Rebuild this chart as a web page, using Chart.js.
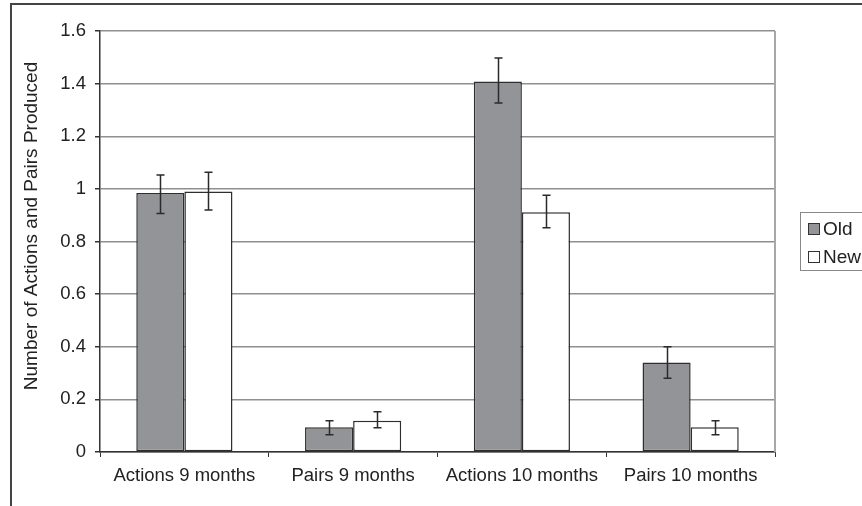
<!DOCTYPE html>
<html>
<head>
<meta charset="utf-8">
<script src="https://cdn.jsdelivr.net/npm/chart.js@4/dist/chart.umd.min.js"></script>
<style>
html,body{margin:0;padding:0;background:#fff;}
#wrap{position:relative;width:862px;height:506px;}
</style>
</head>
<body>
<div id="wrap"><canvas id="c" width="862" height="506"></canvas></div>
<script>
const categories = ["Actions 9 months", "Pairs 9 months", "Actions 10 months", "Pairs 10 months"];
const seriesNames = ["Old", "New"];
const oldValues = [0.984, 0.094, 1.408, 0.340];
const oldLow    = [0.906, 0.066, 1.326, 0.280];
const oldHigh   = [1.053, 0.119, 1.497, 0.400];
const newValues = [0.990, 0.119, 0.911, 0.094];
const newLow    = [0.920, 0.092, 0.852, 0.066];
const newHigh   = [1.063, 0.153, 0.976, 0.119];
const yTicks = [0, 0.2, 0.4, 0.6, 0.8, 1, 1.2, 1.4, 1.6];
const yTitle = "Number of Actions and Pairs Produced";

const FONT = "'Liberation Sans', Arial, sans-serif";
const OLD_FILL = "#939497";
const EDGE = "#2e2e2e";

const errorBars = {
  id: "errorBars",
  afterDatasetsDraw(chart) {
    const ctx = chart.ctx;
    const y = chart.scales.y;
    const lows = [oldLow, newLow], highs = [oldHigh, newHigh];
    ctx.save();
    ctx.strokeStyle = "#2a2a2a";
    ctx.lineWidth = 1.5;
    chart.data.datasets.forEach((ds, di) => {
      const meta = chart.getDatasetMeta(di);
      meta.data.forEach((bar, i) => {
        const x = Math.round(bar.x) + 0.5;
        const y1 = y.getPixelForValue(highs[di][i]);
        const y2 = y.getPixelForValue(lows[di][i]);
        ctx.beginPath();
        ctx.moveTo(x, y1); ctx.lineTo(x, y2);
        ctx.moveTo(x - 4, y1); ctx.lineTo(x + 4, y1);
        ctx.moveTo(x - 4, y2); ctx.lineTo(x + 4, y2);
        ctx.stroke();
      });
    });
    ctx.restore();
  }
};

const decorations = {
  id: "decorations",
  beforeDraw(chart) {
    const ctx = chart.ctx;
    ctx.save();
    ctx.fillStyle = "#fff";
    ctx.fillRect(0, 0, chart.width, chart.height);
    ctx.strokeStyle = "#444";
    ctx.lineWidth = 2;
    ctx.beginPath();
    ctx.moveTo(11, 506); ctx.lineTo(11, 4); ctx.lineTo(862, 4);
    ctx.stroke();
    ctx.restore();
  },
  afterDraw(chart) {
    const ctx = chart.ctx;
    const a = chart.chartArea;
    ctx.save();
    ctx.strokeStyle = "#a8a8a8";
    ctx.lineWidth = 2;
    ctx.beginPath();
    ctx.moveTo(a.right, a.top); ctx.lineTo(a.right, a.bottom);
    ctx.stroke();
    ctx.fillStyle = "#222";
    ctx.font = "19px " + FONT;
    ctx.textAlign = "center";
    ctx.textBaseline = "middle";
    ctx.translate(32, 226);
    ctx.rotate(-Math.PI / 2);
    ctx.fillText(yTitle, 0, 0);
    ctx.restore();
    // legend
    ctx.save();
    ctx.strokeStyle = "#888";
    ctx.lineWidth = 1;
    ctx.strokeRect(800.5, 212.5, 80, 58);
    const fills = [OLD_FILL, "#fff"];
    ctx.font = "19px " + FONT;
    ctx.textBaseline = "middle";
    ctx.textAlign = "left";
    seriesNames.forEach((n, i) => {
      const cy = 229 + i * 28;
      ctx.fillStyle = fills[i];
      ctx.fillRect(808, cy - 6, 12, 12);
      ctx.strokeStyle = "#333";
      ctx.strokeRect(808.5, cy - 5.5, 11, 11);
      ctx.fillStyle = "#222";
      ctx.fillText(n, 823, cy + 1);
    });
    ctx.restore();
  }
};

new Chart(document.getElementById("c"), {
  type: "bar",
  data: {
    labels: categories,
    datasets: [
      { label: seriesNames[0], data: oldValues, backgroundColor: OLD_FILL, borderColor: EDGE, borderWidth: 1.5, borderSkipped: false, categoryPercentage: 0.57, barPercentage: 1.0 },
      { label: seriesNames[1], data: newValues, backgroundColor: "#ffffff", borderColor: EDGE, borderWidth: 1.5, borderSkipped: false, categoryPercentage: 0.57, barPercentage: 1.0 }
    ]
  },
  options: {
    responsive: false,
    animation: false,
    devicePixelRatio: 1,
    layout: { padding: { top: 31, right: 87, left: 0, bottom: 0 } },
    plugins: { legend: { display: false }, tooltip: { enabled: false } },
    scales: {
      x: {
        afterFit(s) { s.height = 54; },
        grid: { display: true, offset: true, drawOnChartArea: false, drawTicks: true, tickLength: 5, tickColor: "#333", lineWidth: 1 },
        border: { color: "#333", width: 1.5 },
        ticks: { color: "#222", font: { family: FONT, size: 18.5 }, padding: 8, maxRotation: 0 }
      },
      y: {
        min: 0, max: 1.6,
        afterFit(s) { s.width = 100; },
        afterBuildTicks(s) { s.ticks = yTicks.map(v => ({ value: v })); },
        grid: { color: "#8f8f8f", lineWidth: 1.5, tickLength: 5, tickColor: "#333" },
        border: { color: "#333", width: 1.5 },
        ticks: { color: "#222", font: { family: FONT, size: 18.5 }, padding: 9, callback: v => String(v) }
      }
    }
  },
  plugins: [errorBars, decorations]
});
</script>
</body>
</html>
